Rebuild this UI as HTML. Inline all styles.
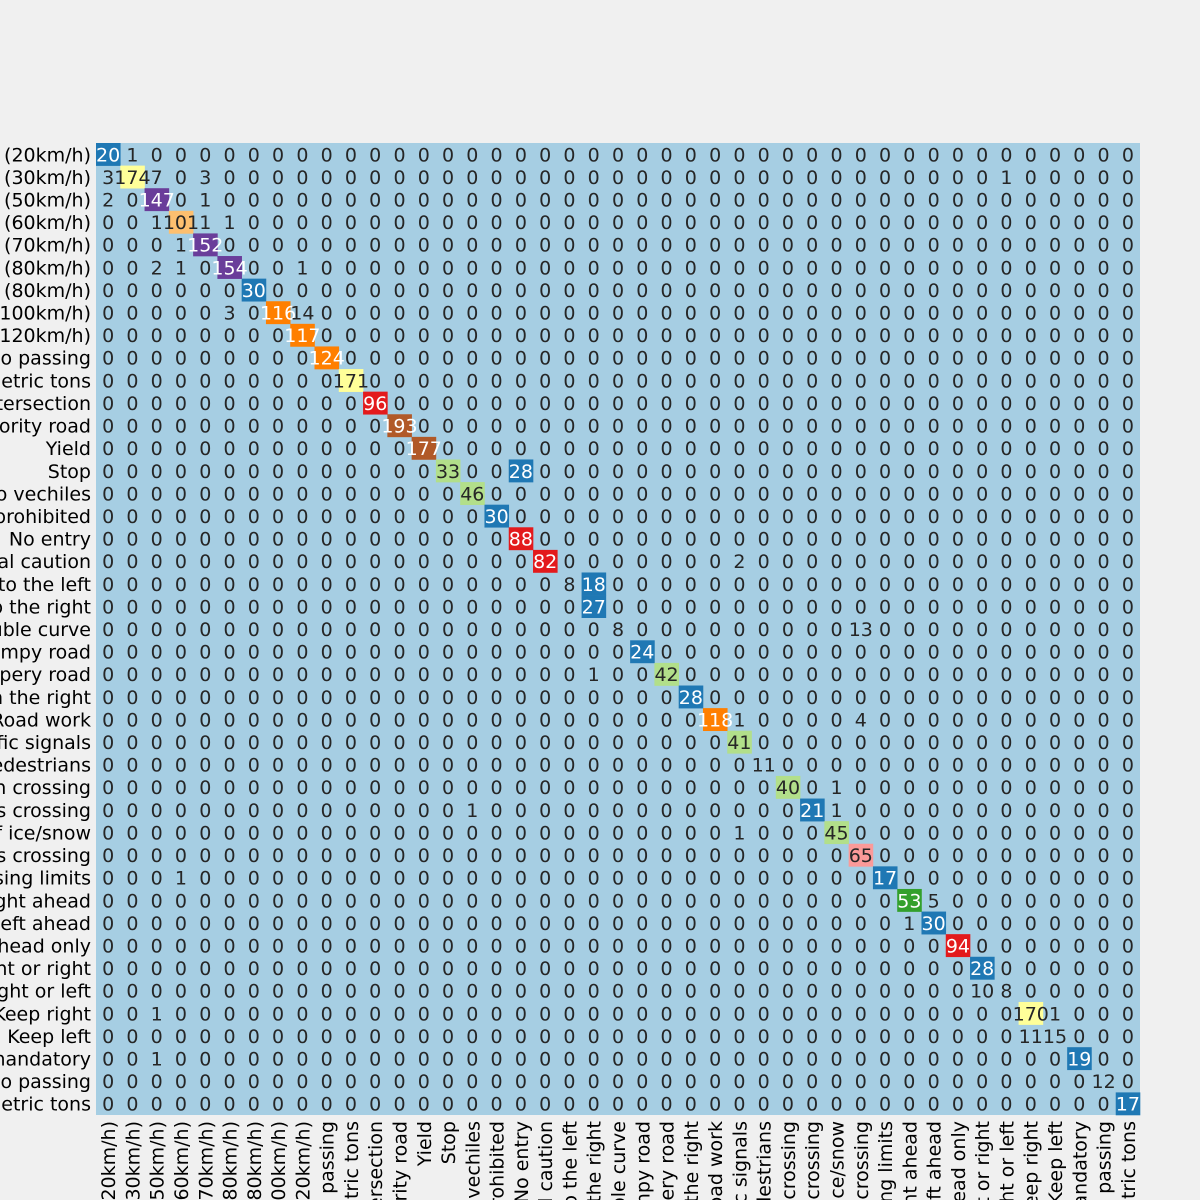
<!DOCTYPE html>
<html><head><meta charset="utf-8">
<style>
html,body{margin:0;padding:0;background:#f0f0f0;width:1200px;height:1200px;overflow:hidden;}
svg{display:block;overflow:hidden;font-family:"DejaVu Sans","Liberation Sans",sans-serif;}
</style></head>
<body>
<svg id="chart" width="1200" height="1200" viewBox="0 0 1200 1200" xmlns="http://www.w3.org/2000/svg">
<rect width="1200" height="1200" fill="#f0f0f0"/>
</svg>
<script>
const classNames = ["Speed limit (20km/h)","Speed limit (30km/h)","Speed limit (50km/h)","Speed limit (60km/h)","Speed limit (70km/h)","Speed limit (80km/h)","End of speed limit (80km/h)","Speed limit (100km/h)","Speed limit (120km/h)","No passing","No passing for vehicles over 3.5 metric tons","Right-of-way at the next intersection","Priority road","Yield","Stop","No vechiles","Vehicles over 3.5 metric tons prohibited","No entry","General caution","Dangerous curve to the left","Dangerous curve to the right","Double curve","Bumpy road","Slippery road","Road narrows on the right","Road work","Traffic signals","Pedestrians","Children crossing","Bicycles crossing","Beware of ice/snow","Wild animals crossing","End of all speed and passing limits","Turn right ahead","Turn left ahead","Ahead only","Go straight or right","Go straight or left","Keep right","Keep left","Roundabout mandatory","End of no passing","End of no passing by vehicles over 3.5 metric tons"];
const diagonalValues = [20,174,147,101,152,154,30,116,117,124,171,96,193,177,33,46,30,88,82,8,27,8,24,42,28,118,41,11,40,21,45,65,17,53,30,94,28,8,170,15,19,12,17];
// off-diagonal entries: [row, col, value]
const offDiagonal = [[0,1,1],[1,0,3],[1,2,7],[1,4,3],[1,37,1],[2,0,2],[2,4,1],[3,2,1],[3,4,1],[3,5,1],[4,3,1],[5,2,2],[5,3,1],[5,8,1],[7,5,3],[7,8,14],[14,17,28],[18,26,2],[19,20,18],[21,31,13],[23,20,1],[25,26,1],[25,31,4],[28,30,1],[29,15,1],[29,30,1],[30,26,1],[32,3,1],[33,34,5],[34,33,1],[37,36,10],[38,2,1],[38,39,1],[39,38,11],[40,2,1]];
const colorScaleMax = 193;
const palette = ["#a6cee3","#1f78b4","#b2df8a","#33a02c","#fb9a99","#e31a1c","#fdbf6f","#ff7f00","#cab2d6","#6a3d9a","#ffff99","#b15928"];
const darkIdx = [1,3,5,7,9,11];

const NS="http://www.w3.org/2000/svg";
const svg=document.getElementById('chart');
const n=classNames.length;
const x0=96,x1=1140,y0=143,y1=1115;
const cw=(x1-x0)/n, ch=(y1-y0)/n;
const xPos=c=>x0+cw*c, yPos=r=>y0+ch*r;
const M=[];for(let r=0;r<n;r++){M.push(new Array(n).fill(0));M[r][r]=diagonalValues[r];}
offDiagonal.forEach(([r,c,v])=>{M[r][c]=v;});
function colorIdx(v){return Math.min(11,Math.floor(v/colorScaleMax*12));}
function mk(t,a){const e=document.createElementNS(NS,t);for(const k in a)e.setAttribute(k,a[k]);return e;}
const cells=mk('g',{});


svg.appendChild(cells);
const bg=mk('rect',{x:x0,y:y0,width:x1-x0,height:y1-y0,fill:palette[0]});


cells.appendChild(bg);
for(let r=0;r<n;r++)for(let c=0;c<n;c++){
  const v=M[r][c],ci=colorIdx(v);
  if(ci>0){const rc=mk('rect',{x:xPos(c),y:yPos(r),width:cw+0.3,height:ch+0.3,fill:palette[ci]});
    
    
    cells.appendChild(rc);}
}
for(let r=0;r<n;r++)for(let c=0;c<n;c++){
  const v=M[r][c],ci=colorIdx(v);
  const t=mk('text',{x:xPos(c)+cw/2,y:yPos(r)+ch/2+7,'text-anchor':'middle','font-size':'19',fill:darkIdx.includes(ci)?'#ffffff':'#262626'});
  t.textContent=v;
  
  
  svg.appendChild(t);
}
for(let i=0;i<n;i++){
  const yl=mk('text',{x:91,y:yPos(i)+ch/2+7,'text-anchor':'end','font-size':'19',fill:'#000'});
  yl.textContent=classNames[i];
  
  
  svg.appendChild(yl);
  const cx=xPos(i)+cw/2+7;
  const xl=mk('text',{x:cx,y:1121,'text-anchor':'end','font-size':'19',fill:'#000',transform:`rotate(-90 ${cx} 1121)`});
  xl.textContent=classNames[i];
  
  
  svg.appendChild(xl);
}
</script>
</body></html>
